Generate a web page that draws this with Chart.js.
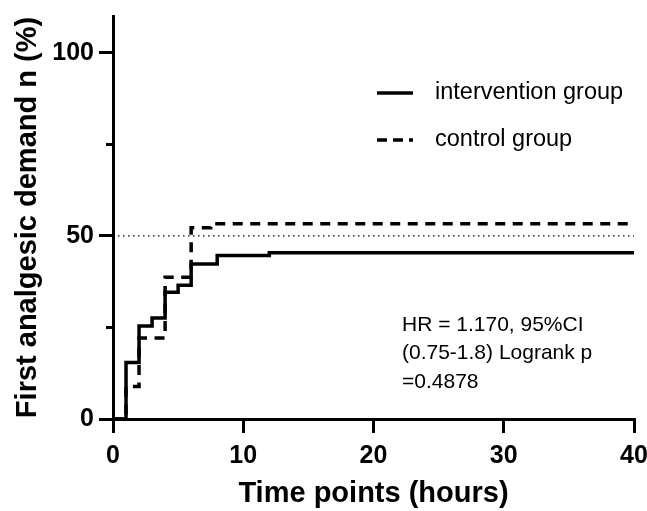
<!DOCTYPE html>
<html>
<head>
<meta charset="utf-8">
<script src="https://cdn.jsdelivr.net/npm/chart.js@4"></script>
<style>
  html, body { margin: 0; padding: 0; background: #fff; }
  #wrap { width: 647px; height: 511px; }
</style>
</head>
<body>
<div id="wrap"><canvas id="km" width="647" height="511"></canvas></div>
<script>
// Kaplan-Meier style cumulative curves (percent)
const interventionTimes = [0, 1, 2, 3, 4, 5, 6, 8, 12, 40];
const interventionValues = [0, 15.4, 25.4, 27.6, 34.6, 36.5, 42.3, 44.6, 45.4, 45.4];
const controlTimes = [0, 1, 2, 4, 6, 7.5, 40];
const controlValues = [0, 8.9, 22.1, 38.7, 52.2, 53.3, 53.3];
const medianLine = [50, 50];
const medianTimes = [0, 40];

const xTicks = [0, 10, 20, 30, 40];
const yTicks = [0, 50, 100];
const yMinorTicks = [25, 75];

const seriesNames = ['intervention group', 'control group'];
const statsText = ['HR = 1.170, 95%CI', '(0.75-1.8) Logrank p', '=0.4878'];

const FONT = "'Liberation Sans', Arial, sans-serif";

const toPoints = (xs, ys) => xs.map((x, i) => ({ x: x, y: ys[i] }));

// minor ticks, legend and stats note
const extras = {
    id: 'extras',
    afterDraw(chart) {
        const ctx = chart.ctx;
        const y = chart.scales.y;
        const left = chart.chartArea.left;
        ctx.save();

        ctx.strokeStyle = '#000';
        ctx.lineWidth = 3;
        yMinorTicks.forEach(v => {
            const py = Math.round(y.getPixelForValue(v)) + 0.5;
            ctx.beginPath();
            ctx.moveTo(left - 7, py);
            ctx.lineTo(left, py);
            ctx.stroke();
        });

        // legend
        const lx = 377, lw = 36;
        const rows = [93, 140];
        ctx.lineWidth = 3.5;
        ctx.beginPath();
        ctx.moveTo(lx, rows[0]);
        ctx.lineTo(lx + lw, rows[0]);
        ctx.stroke();
        ctx.setLineDash([10, 6]);
        ctx.beginPath();
        ctx.moveTo(lx, rows[1]);
        ctx.lineTo(lx + lw, rows[1]);
        ctx.stroke();
        ctx.setLineDash([]);

        ctx.fillStyle = '#000';
        ctx.font = '23.5px ' + FONT;
        ctx.textAlign = 'left';
        ctx.textBaseline = 'middle';
        seriesNames.forEach((name, i) => ctx.fillText(name, 435, rows[i]));

        ctx.font = '21px ' + FONT;
        statsText.forEach((t, i) => ctx.fillText(t, 402, 325 + i * 28.5));

        ctx.restore();
    }
};

const noPad = s => { s.paddingLeft = 0; s.paddingRight = 0; s.paddingTop = 0; s.paddingBottom = 0; };

new Chart(document.getElementById('km').getContext('2d'), {
    type: 'line',
    data: {
        datasets: [
            {
                label: 'median',
                data: toPoints(medianTimes, medianLine),
                borderColor: '#000',
                borderWidth: 1.3,
                borderDash: [1.5, 3.5],
                pointRadius: 0,
            },
            {
                label: seriesNames[1],
                data: toPoints(controlTimes, controlValues),
                borderColor: '#000',
                borderWidth: 3.5,
                borderDash: [10, 7.5],
                stepped: 'before',
                pointRadius: 0,
            },
            {
                label: seriesNames[0],
                data: toPoints(interventionTimes, interventionValues),
                borderColor: '#000',
                borderWidth: 3.5,
                stepped: 'before',
                pointRadius: 0,
            },
        ]
    },
    options: {
        responsive: false,
        animation: false,
        layout: {
            autoPadding: false,
            padding: { left: 0, top: 16, right: 13, bottom: 0 }
        },
        plugins: {
            legend: { display: false },
            tooltip: { enabled: false },
        },
        scales: {
            x: {
                type: 'linear',
                min: 0,
                max: 40,
                afterFit: s => { s.height = 92; noPad(s); },
                afterBuildTicks: s => { s.ticks = xTicks.map(v => ({ value: v })); },
                border: { color: '#000', width: 3 },
                grid: {
                    drawOnChartArea: false,
                    color: '#000',
                    lineWidth: 3,
                    tickLength: 14,
                },
                ticks: {
                    color: '#000',
                    padding: 8,
                    maxRotation: 0,
                    font: { family: FONT, size: 25, weight: 'bold' },
                },
                title: {
                    display: true,
                    text: 'Time points (hours)',
                    color: '#000',
                    padding: { top: 0, bottom: 0 },
                    font: { family: FONT, size: 29, weight: 'bold' },
                }
            },
            y: {
                min: 0,
                max: 110,
                afterFit: s => { s.width = 113; noPad(s); },
                afterBuildTicks: s => { s.ticks = yTicks.map(v => ({ value: v })); },
                border: { color: '#000', width: 3 },
                grid: {
                    drawOnChartArea: false,
                    color: '#000',
                    lineWidth: 3,
                    tickLength: 14,
                },
                ticks: {
                    color: '#000',
                    padding: 5,
                    font: { family: FONT, size: 25, weight: 'bold' },
                },
                title: {
                    display: true,
                    text: 'First analgesic demand n (%)',
                    color: '#000',
                    padding: { top: 11, bottom: 0 },
                    font: { family: FONT, size: 29, weight: 'bold' },
                }
            }
        }
    },
    plugins: [extras]
});
</script>
</body>
</html>
